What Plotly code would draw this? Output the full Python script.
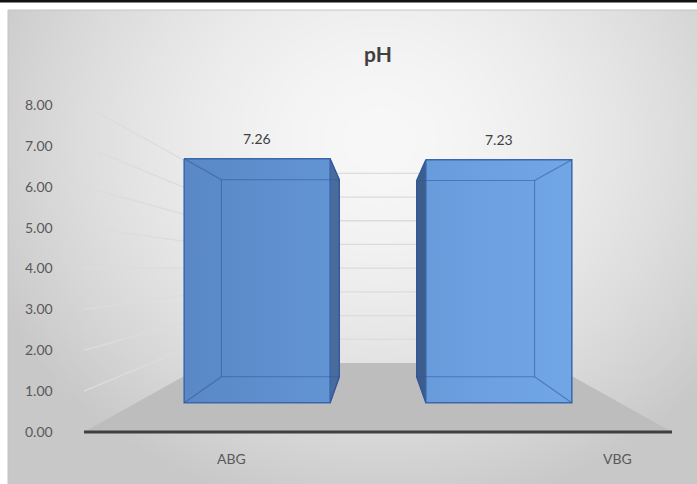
import base64
import struct
import zlib

import numpy as np
import plotly.graph_objects as go

# ---- data -------------------------------------------------------------
categories = ["ABG", "VBG"]
ph_values = [7.26, 7.23]
y_ticks = [0, 1, 2, 3, 4, 5, 6, 7, 8]
y_tick_text = [f"{t:.2f}" for t in y_ticks]

# ---- canvas / pseudo-3D geometry ---------------------------------------
W, H = 697, 484
PX_X0, PX_PER_CAT = 231.0, 294.0     # pixel x of category 0, pixels per category
PX_Y0, PX_PER_UNIT = 432.0, 40.875   # pixel y of value 0 on the front plane, px per unit
EYE_X, EYE_V = 0.5, 4.02             # vanishing point (category units, value units)
S_BAR_FRONT, S_BAR_BACK, S_WALL = 0.822, 0.664, 0.58   # perspective scale per depth
BAR_HALF = 0.302                     # half bar width (category units, front plane)
FLOOR_X = (-0.5, 1.5)
CAT_LABEL_X = [0.0, 1.316]
FONT = "Lato"

x_range = [(0 - PX_X0) / PX_PER_CAT, (W - PX_X0) / PX_PER_CAT]
y_range = [(PX_Y0 - H) / PX_PER_UNIT, PX_Y0 / PX_PER_UNIT]


def proj(x, v, s):
    """Project a front-plane point (x, v) to depth with perspective scale s."""
    return EYE_X + (x - EYE_X) * s, EYE_V + (v - EYE_V) * s


def poly(points, close=True):
    xs = [p[0] for p in points]
    ys = [p[1] for p in points]
    if close:
        xs.append(points[0][0])
        ys.append(points[0][1])
    return xs, ys


# ---- radial gradient background as an inline PNG -------------------------
def gradient_png(w, h, x0, y0, cw, ch):
    ii, jj = np.meshgrid(np.arange(w), np.arange(h))
    px = x0 + (ii + 0.5) * cw / w
    py = y0 + (jj + 0.5) * ch / h
    r = np.sqrt(((px - 380) / 430) ** 2 + ((py - 140) / 380) ** 2)
    r = np.minimum(r, 1.0)
    g = np.clip(248 - 48 * r ** 1.6, 0, 255).astype(np.uint8)
    raw = b"".join(b"\x00" + g[row].tobytes() for row in range(h))

    def chunk(tag, data):
        return (struct.pack(">I", len(data)) + tag + data
                + struct.pack(">I", zlib.crc32(tag + data) & 0xFFFFFFFF))

    png = (b"\x89PNG\r\n\x1a\n"
           + chunk(b"IHDR", struct.pack(">IIBBBBB", w, h, 8, 0, 0, 0, 0))
           + chunk(b"IDAT", zlib.compress(raw, 9))
           + chunk(b"IEND", b""))
    return "data:image/png;base64," + base64.b64encode(png).decode()


AREA_X0, AREA_Y0 = 8, 10
bg_src = gradient_png(230, 158, AREA_X0, AREA_Y0, W - AREA_X0, H - AREA_Y0)

fig = go.Figure()

# ---- floor ---------------------------------------------------------------
floor_pts = [(FLOOR_X[0], 0), (FLOOR_X[1], 0),
             proj(FLOOR_X[1], 0, S_WALL), proj(FLOOR_X[0], 0, S_WALL)]
fx, fy = poly(floor_pts)
fig.add_trace(go.Scatter(x=fx, y=fy, mode="lines", fill="toself",
                         fillcolor="#bdbdbd", line=dict(width=0),
                         hoverinfo="skip", showlegend=False))

# ---- wall gridlines ------------------------------------------------------
gx, gy = [], []
for t in y_ticks[1:]:
    bx, by = proj(FLOOR_X[0], t, S_WALL)
    ex, ey = proj(FLOOR_X[1], t, S_WALL)
    gx += [FLOOR_X[0], bx, ex, None]
    gy += [t, by, ey, None]
fig.add_trace(go.Scatter(x=gx, y=gy, mode="lines",
                         line=dict(color="#dcdcdc", width=1.3),
                         hoverinfo="skip", showlegend=False))

# ---- front edge of the floor ----------------------------------------------
fig.add_trace(go.Scatter(x=list(FLOOR_X), y=[0, 0], mode="lines",
                         line=dict(color="#404040", width=3),
                         hoverinfo="skip", showlegend=False))

# ---- 3D bars -------------------------------------------------------------
annotations = []
for i, (cat, val) in enumerate(zip(categories, ph_values)):
    xl, xr = i - BAR_HALF, i + BAR_HALF
    ftl, ftr = proj(xl, val, S_BAR_FRONT), proj(xr, val, S_BAR_FRONT)
    fbl, fbr = proj(xl, 0, S_BAR_FRONT), proj(xr, 0, S_BAR_FRONT)
    btl, btr = proj(xl, val, S_BAR_BACK), proj(xr, val, S_BAR_BACK)
    bbl, bbr = proj(xl, 0, S_BAR_BACK), proj(xr, 0, S_BAR_BACK)

    if i < EYE_X:
        side = [ftr, btr, bbr, fbr]
        side_color = "#4a6c9c"
    else:
        side = [ftl, btl, bbl, fbl]
        side_color = "#3e5d8a"

    sx, sy = poly(side)
    fig.add_trace(go.Scatter(x=sx, y=sy, mode="lines", fill="toself",
                             fillcolor=side_color,
                             line=dict(color="#2f5a9a", width=1.2),
                             hoverinfo="skip", showlegend=False))

    px_, py_ = poly([ftl, ftr, fbr, fbl])
    fig.add_trace(go.Scatter(
        x=px_, y=py_, mode="lines", fill="toself",
        fillgradient=dict(type="horizontal", start=-0.2, stop=1.25,
                          colorscale=[[0, "#5987c6"], [1, "#73a9e9"]]),
        line=dict(color="#3a66ad", width=1.5),
        hoverinfo="skip", showlegend=False))

    # edges seen through the translucent box
    ex, ey = [], []
    bx, by = poly([btl, btr, bbr, bbl])
    ex += bx + [None]
    ey += by + [None]
    for a, b in [(ftl, btl), (ftr, btr), (fbl, bbl), (fbr, bbr)]:
        ex += [a[0], b[0], None]
        ey += [a[1], b[1], None]
    fig.add_trace(go.Scatter(x=ex, y=ey, mode="lines",
                             line=dict(color="rgba(45,85,155,0.55)", width=1.1),
                             hoverinfo="skip", showlegend=False))

    annotations.append(dict(x=(ftl[0] + ftr[0]) / 2, y=ftl[1], yshift=20,
                            text=f"{val:.2f}", showarrow=False,
                            font=dict(family=FONT, size=14, color="#404040")))
    annotations.append(dict(x=CAT_LABEL_X[i], y=0, yshift=-26, text=cat,
                            showarrow=False,
                            font=dict(family=FONT, size=14, color="#595959")))

# ---- frame pieces --------------------------------------------------------
shapes = [
    dict(type="rect", xref="paper", yref="paper", x0=0, x1=1,
         y0=1 - 2.5 / H, y1=1, fillcolor="#111111", line=dict(width=0),
         layer="below"),
    dict(type="rect", xref="paper", yref="paper",
         x0=AREA_X0 / W, x1=1 + 2 / W, y0=-2 / H, y1=1 - AREA_Y0 / H,
         fillcolor="rgba(0,0,0,0)", line=dict(color="#c4c4c4", width=1),
         layer="below"),
]

fig.update_layout(
    width=W, height=H, autosize=False,
    margin=dict(l=0, r=0, t=0, b=0, pad=0),
    paper_bgcolor="white", plot_bgcolor="white",
    title=dict(text="<b>pH</b>", x=378 / W, xanchor="center",
               y=1 - 55 / H, yanchor="middle", yref="container",
               font=dict(family=FONT, size=21, color="#404040")),
    images=[dict(source=bg_src, xref="paper", yref="paper",
                 x=AREA_X0 / W, y=1 - AREA_Y0 / H,
                 sizex=1 - AREA_X0 / W, sizey=1 - AREA_Y0 / H,
                 xanchor="left", yanchor="top", sizing="stretch",
                 layer="below")],
    shapes=shapes,
    annotations=annotations,
    xaxis=dict(range=x_range, visible=False, fixedrange=True),
    yaxis=dict(range=y_range, tickvals=y_ticks, ticktext=y_tick_text,
               ticklabelposition="inside", ticklabelstandoff=22, ticks="",
               showgrid=False, zeroline=False, showline=False,
               tickfont=dict(family=FONT, size=14, color="#595959"),
               fixedrange=True),
)

fig.write_html("out.html")
